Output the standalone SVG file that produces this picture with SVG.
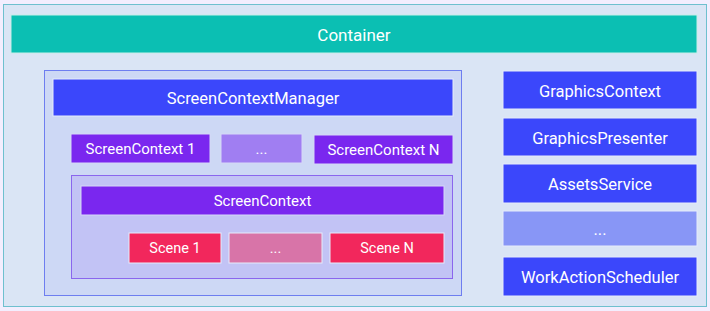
<svg xmlns="http://www.w3.org/2000/svg" width="710" height="311" viewBox="0 0 710 311">
<style>
text{font-family:Roboto,"Liberation Sans",sans-serif;fill:#ffffff;text-anchor:middle;dominant-baseline:central}
.l{font-size:16.5px}
.m{font-size:15px}
.s{font-size:14.5px}
.blue{fill:#3b47fb;stroke:#e6ecfb;stroke-width:1}
.purple{fill:#7a27ef;stroke:#d6d8f8;stroke-width:1}
.red{fill:#f2275c;stroke:#e6ecfb;stroke-width:1}
</style>
<rect x="0" y="0" width="710" height="311" fill="#f3eefe"/>
<g id="outer">
<rect x="3.5" y="4.5" width="703" height="302" fill="#dae5f5" stroke="#6ec0cf" stroke-width="1"/>
</g>
<g id="container">
<rect x="11" y="15" width="686" height="38" fill="#0bbfb3" stroke="#c8eee9" stroke-width="1"/>
<text x="354" y="35" style="font-size:17px">Container</text>
</g>
<g id="leftgroup">
<rect x="44.5" y="70.5" width="417" height="225" fill="#cdd8f5" stroke="#6e7ef0" stroke-width="1"/>
</g>
<g id="screenContextManager">
<rect class="blue" x="53" y="79" width="400" height="37"/>
<text class="l" x="253" y="98">ScreenContextManager</text>
</g>
<g id="screenContext1">
<rect class="purple" x="71" y="134" width="139" height="29"/>
<text class="m" x="140.5" y="149">ScreenContext 1</text>
</g>
<g id="screenContextDots">
<rect x="221" y="134" width="81" height="29" fill="#a07ef2" stroke="#d6d8f8" stroke-width="1"/>
<text class="m" x="261.5" y="149">...</text>
</g>
<g id="screenContextN">
<rect class="purple" x="314" y="135" width="139" height="29"/>
<text class="m" x="383.5" y="150">ScreenContext N</text>
</g>
<g id="innergroup">
<rect x="71.5" y="175.5" width="381" height="103" fill="#c2c3f5" stroke="#8a66ee" stroke-width="1"/>
</g>
<g id="screenContext">
<rect class="purple" x="81" y="186" width="363" height="29"/>
<text class="m" x="262.5" y="201">ScreenContext</text>
</g>
<g id="scene1">
<rect class="red" x="129" y="233" width="92" height="30"/>
<text class="s" x="175" y="248">Scene 1</text>
</g>
<g id="sceneDots">
<rect x="229" y="233" width="93" height="30" fill="#d874a8" stroke="#e6ecfb" stroke-width="1"/>
<text class="s" x="275.5" y="248">...</text>
</g>
<g id="sceneN">
<rect class="red" x="330" y="233" width="114" height="30"/>
<text class="s" x="387" y="248">Scene N</text>
</g>
<g id="graphicsContext">
<rect class="blue" x="503" y="71" width="194" height="38"/>
<text class="l" x="600" y="91">GraphicsContext</text>
</g>
<g id="graphicsPresenter">
<rect class="blue" x="503" y="118" width="194" height="38"/>
<text class="l" x="600" y="138">GraphicsPresenter</text>
</g>
<g id="assetsService">
<rect class="blue" x="503" y="164" width="194" height="39"/>
<text class="l" x="600" y="184">AssetsService</text>
</g>
<g id="serviceDots">
<rect x="503" y="211" width="194" height="35" fill="#8896f6" stroke="#e6ecfb" stroke-width="1"/>
<text class="l" x="600" y="229">...</text>
</g>
<g id="workActionScheduler">
<rect class="blue" x="503" y="257" width="194" height="39"/>
<text class="l" x="600" y="277">WorkActionScheduler</text>
</g>
<g id="connectors"></g>
</svg>
